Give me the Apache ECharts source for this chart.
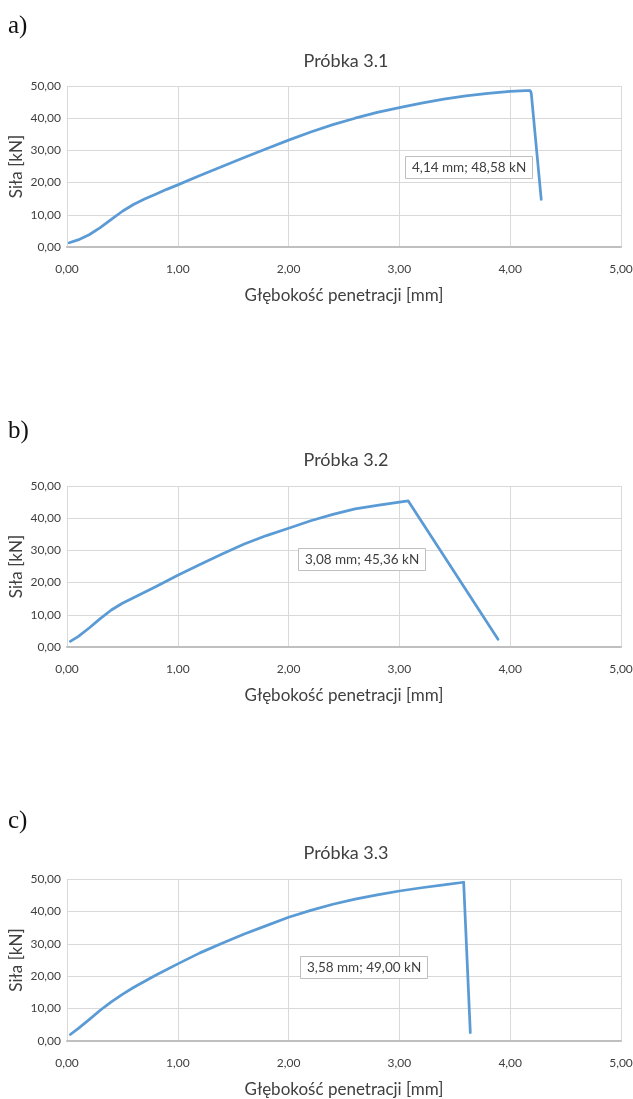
<!DOCTYPE html>
<html><head><meta charset="utf-8">
<script src="https://cdn.jsdelivr.net/npm/echarts@6/dist/echarts.min.js"></script>
<style>html,body{margin:0;padding:0;background:#fff}#c{width:633px;height:1099px}</style>
</head><body><div id="c"></div>
<script>
var xTicks = ["0,00","1,00","2,00","3,00","4,00","5,00"];
var yTicks = ["0,00","10,00","20,00","30,00","40,00","50,00"];
var panelLetters = ["a)","b)","c)"];
var titles = ["Próbka 3.1","Próbka 3.2","Próbka 3.3"];
var annotations = ["4,14 mm; 48,58 kN","3,08 mm; 45,36 kN","3,58 mm; 49,00 kN"];
var xName = "Głębokość penetracji [mm]";
var yName = "Siła [kN]";

var sampleA = [[0.02,1.3],[0.1,2.2],[0.2,3.8],[0.3,6.0],[0.4,8.6],[0.5,11.1],[0.6,13.2],[0.7,14.9],[0.8,16.4],[0.9,17.9],[1.0,19.3],[1.2,22.2],[1.4,25.0],[1.6,27.8],[1.8,30.5],[2.0,33.2],[2.2,35.7],[2.4,38.0],[2.6,40.0],[2.8,41.8],[3.0,43.3],[3.2,44.7],[3.4,45.9],[3.6,46.9],[3.8,47.7],[4.0,48.3],[4.14,48.58],[4.18,48.6],[4.19,47.8],[4.28,14.8]];
var sampleB = [[0.03,1.75],[0.1,3.2],[0.2,5.9],[0.3,8.8],[0.4,11.5],[0.5,13.6],[0.6,15.3],[0.8,18.7],[1.0,22.3],[1.2,25.6],[1.4,28.9],[1.6,32.0],[1.8,34.6],[2.0,36.9],[2.2,39.2],[2.4,41.2],[2.6,42.9],[2.8,44.0],[3.0,45.0],[3.08,45.36],[3.89,2.4]];
var sampleC = [[0.03,2.0],[0.1,3.8],[0.2,6.6],[0.3,9.5],[0.4,12.1],[0.5,14.4],[0.6,16.5],[0.8,20.3],[1.0,23.8],[1.2,27.2],[1.4,30.2],[1.6,33.0],[1.8,35.6],[2.0,38.2],[2.2,40.3],[2.4,42.2],[2.6,43.8],[2.8,45.1],[3.0,46.3],[3.2,47.3],[3.4,48.2],[3.58,49.0],[3.59,48.9],[3.64,2.6]];
var samples = [sampleA, sampleB, sampleC];

var FONT = "Lato";
var gridTops = [86, 486, 879];
var gridH = [161, 161, 162];
var titleTops = [47, 446, 839];
var letterTops = [14, 419, 809];
var annPos = [[405,156],[298,548],[300,956]];

var grids=[], xAxes=[], yAxes=[], series=[], titleArr=[];
for (var i=0;i<3;i++){
  grids.push({left:67, right:12, top:gridTops[i], height:gridH[i], containLabel:false, outerBoundsMode:'none'});
  xAxes.push({type:'value', gridIndex:i, min:0, max:5, interval:1,
    name:xName, nameLocation:'middle', nameGap:49, nameMoveOverlap:false,
    nameTextStyle:{fontFamily:FONT, fontSize:17, color:'#404040', verticalAlign:'middle'},
    axisLine:{show:true, lineStyle:{color:'#bfbfbf', width:2}},
    axisTick:{show:false},
    axisLabel:{fontFamily:FONT, fontSize:12, color:'#404040', margin:16, formatter:function(v){return xTicks[Math.round(v)];}},
    splitLine:{show:true, lineStyle:{color:'#d9d9d9', width:1}}});
  yAxes.push({type:'value', gridIndex:i, min:0, max:50, interval:10,
    name:yName, nameLocation:'middle', nameGap:50, nameRotate:90, nameMoveOverlap:false,
    nameTextStyle:{fontFamily:FONT, fontSize:17, color:'#404040', verticalAlign:'middle'},
    axisLine:{show:false}, axisTick:{show:false},
    axisLabel:{fontFamily:FONT, fontSize:12, color:'#404040', margin:6, formatter:function(v){return yTicks[Math.round(v/10)];}},
    splitLine:{show:true, lineStyle:{color:'#d9d9d9', width:1}}});
  series.push({type:'line', xAxisIndex:i, yAxisIndex:i, data:samples[i], showSymbol:false, symbol:'none',
    smooth:false,
    lineStyle:{color:'#5b9bd5', width:2.75, join:'round', cap:'round'}, silent:true, animation:false});
  titleArr.push({text:titles[i], left:341, top:titleTops[i], textAlign:'center',
    textStyle:{fontFamily:FONT, fontSize:18, fontWeight:'normal', color:'#404040'}});
  titleArr.push({text:panelLetters[i], left:8, top:letterTops[i], padding:0,
    textStyle:{fontFamily:'Liberation Serif', fontSize:25, fontWeight:'normal', color:'#111'}});
  titleArr.push({text:annotations[i], left:annPos[i][0], top:annPos[i][1], padding:[5,7,4,7],
    borderColor:'#bfbfbf', borderWidth:1, backgroundColor:'#fff',
    textStyle:{fontFamily:FONT, fontSize:13.5, fontWeight:'normal', color:'#404040'}});
}
var chart = echarts.init(document.getElementById('c'));
chart.setOption({animation:false, title:titleArr, grid:grids, xAxis:xAxes, yAxis:yAxes, series:series});
</script></body></html>
